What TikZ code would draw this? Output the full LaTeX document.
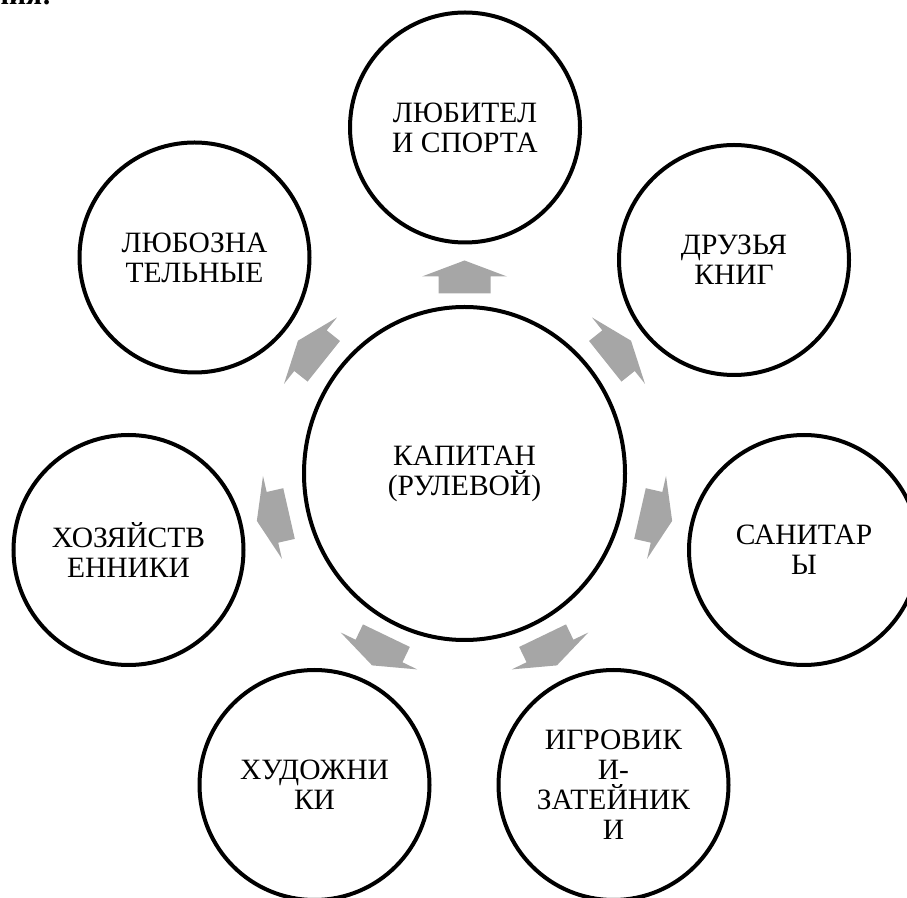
\documentclass[tikz,border=0pt]{standalone}
\usepackage{fontspec}
\setmainfont{Liberation Serif}
\usetikzlibrary{shapes.geometric}
\definecolor{arrowgray}{RGB}{166,166,166}
\begin{document}
\begin{tikzpicture}[x=1pt,y=1pt,
  ring/.style={circle, draw=black, line width=4pt, minimum size=230pt, inner sep=0pt, align=center, font=\fontsize{29.5}{30}\selectfont},
  hub/.style={ellipse, draw=black, line width=4pt, minimum width=321pt, minimum height=333pt, inner sep=0pt, align=center, font=\fontsize{29.5}{30}\selectfont},
  blockarrow/.style={fill=arrowgray, draw=none},
  headtext/.style={inner sep=0pt, font=\fontsize{29.5}{30}\selectfont\bfseries}]
\useasboundingbox (0,0) rectangle (907,897);
\clip (0,0) rectangle (907,897);
\node[headtext, anchor=base east] (head) at (52,892) {ния:};
\node[hub] (cap) at (464.5,423.5) {КАПИТАН\\(РУЛЕВОЙ)};
\node[ring] (n0) at (465,769.5) {ЛЮБИТЕЛ\\И СПОРТА};
\node[ring] (n1) at (734,637) {ДРУЗЬЯ\\КНИГ};
\node[ring] (n2) at (804,347) {САНИТАР\\Ы};
\node[ring] (n3) at (613.5,112) {ИГРОВИК\\И-\\ЗАТЕЙНИК\\И};
\node[ring] (n4) at (314.5,112) {ХУДОЖНИ\\КИ};
\node[ring] (n5) at (128.5,347) {ХОЗЯЙСТВ\\ЕННИКИ};
\node[ring] (n6) at (194.5,639.5) {ЛЮБОЗНА\\ТЕЛЬНЫЕ};
\foreach \k in {0,...,6}{
  \pgfmathsetmacro{\ang}{-\k*360/7}
  \fill[blockarrow, shift={(cap.center)}, rotate=\ang]
    (-26,180) -- (26,180) -- (26,197) -- (42.5,197) -- (0,213) -- (-42.5,197) -- (-26,197) -- cycle;
}
\end{tikzpicture}
\end{document}
